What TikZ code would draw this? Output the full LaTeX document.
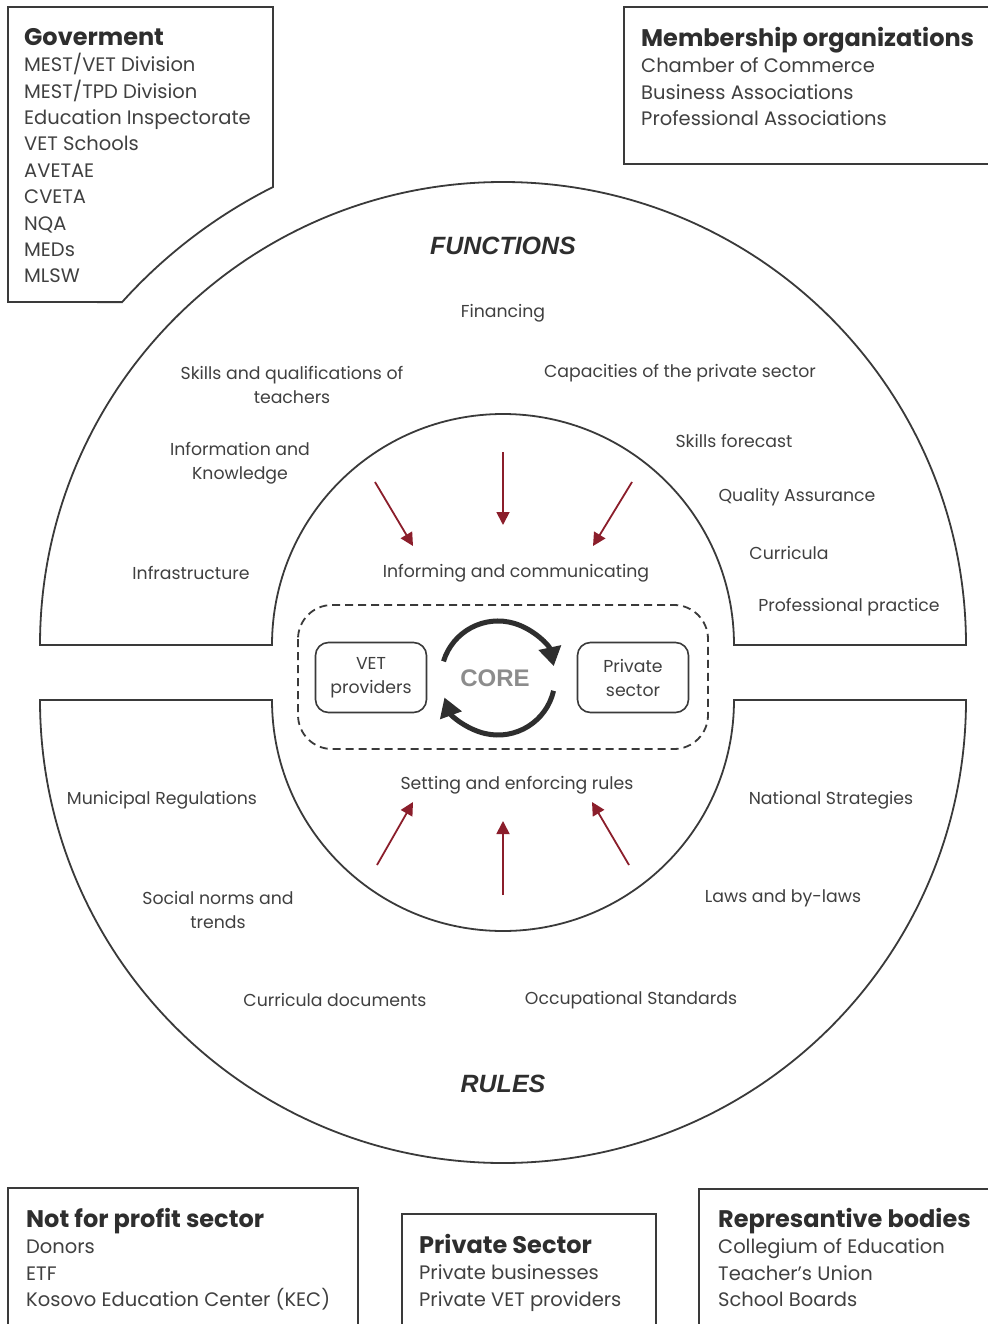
\documentclass[tikz,border=0pt]{standalone}
\usepackage{fontspec}
\setmainfont{Poppins}
\newfontfamily\arialf{Liberation Sans}
\usetikzlibrary{arrows.meta}
\definecolor{ln}{HTML}{3A3A3A}
\definecolor{tx}{HTML}{404040}
\definecolor{hd}{HTML}{2E2E2E}
\definecolor{rd}{HTML}{8B1E2B}
\definecolor{coregray}{HTML}{8C8C8C}
\newcommand\hdr[1]{{\bfseries\fontsize{24}{26.4}\selectfont\color{hd}#1}}
\begin{document}
\begin{tikzpicture}[x=1pt,y=-1pt,
  shapeline/.style={draw=ln, line width=1.8pt, fill=white},
  lbl/.style={text=tx, font=\fontsize{17.3}{24}\selectfont, align=center, inner sep=0pt},
  boxtext/.style={text=tx, font=\fontsize{19.5}{26.4}\selectfont, align=left, anchor=north west, inner sep=0pt},
  bigital/.style={text=hd, font=\arialf\bfseries\itshape\fontsize{25}{28}\selectfont, inner sep=0pt},
  redarrow/.style={draw=rd, line width=1.8pt, -{Triangle[length=13pt,width=13pt]}},
  corearrow/.style={draw=hd, line width=5pt, -{Triangle[length=19pt,width=22pt]}},
  roundbox/.style={draw=ln, line width=1.6pt, rounded corners=13pt, minimum width=111pt, minimum height=70pt, text=tx, font=\fontsize{17.3}{24}\selectfont, align=center, inner sep=0pt}
]
\useasboundingbox (0,0) rectangle (987,1324);
\fill[white] (0,0) rectangle (987,1324);

% ---- outer boxes ----
\draw[shapeline] (8,7) -- (273,7) -- (273,187)
  arc[start angle=243.33, end angle=221.99, radius=512.6] -- (8,302) -- cycle;
\draw[shapeline] (624,7) rectangle (1000,164);
\draw[shapeline] (8,1188) rectangle (358,1340);
\draw[shapeline] (402,1214) rectangle (656,1340);
\draw[shapeline] (699,1189) rectangle (1000,1340);

\node[boxtext] (gov) at (24,28) {\hdr{Goverment}\\MEST/VET Division\\MEST/TPD Division\\Education Inspectorate\\VET Schools\\AVETAE\\CVETA\\NQA\\MEDs\\MLSW};
\node[boxtext] (mem) at (641,27) {\hdr{Membership organizations}\\Chamber of Commerce\\Business Associations\\Professional Associations};
\node[boxtext] (npf) at (26,1208) {\hdr{Not for profit sector}\\Donors\\ETF\\Kosovo Education Center (KEC)};
\node[boxtext] (prs) at (419,1234) {\hdr{Private Sector}\\Private businesses\\Private VET providers};
\node[boxtext] (rep) at (718,1208) {\hdr{Represantive bodies}\\Collegium of Education\\Teacher’s Union\\School Boards};

% ---- half rings ----
\draw[shapeline] (40,645) -- (272,645) arc[start angle=180, end angle=360, radius=231]
  -- (966,645) arc[start angle=0, end angle=-180, radius=463] -- cycle;
\draw[shapeline] (40,700) -- (272,700) arc[start angle=180, end angle=0, radius=231]
  -- (966,700) arc[start angle=0, end angle=180, radius=463] -- cycle;

% ---- functions labels ----
\node[bigital] (fun) at (503,246) {FUNCTIONS};
\node[lbl] (fin) at (503,313) {Financing};
\node[lbl] (sqt) at (292,385) {Skills and qualifications of\\teachers};
\node[lbl] (cap) at (680,373) {Capacities of the private sector};
\node[lbl] (ink) at (240,463) {Information and\\Knowledge};
\node[lbl] (skf) at (734,441) {Skills forecast};
\node[lbl] (qas) at (797,497) {Quality Assurance};
\node[lbl] (cur) at (789,553) {Curricula};
\node[lbl] (inf) at (191,573) {Infrastructure};
\node[lbl] (pp) at (849,607) {Professional practice};
\node[lbl] (ic) at (516,573) {Informing and communicating};

% ---- rules labels ----
\node[lbl] (ser) at (517,785) {Setting and enforcing rules};
\node[lbl] (mr) at (162,800) {Municipal Regulations};
\node[lbl] (ns) at (831,800) {National Strategies};
\node[lbl] (snt) at (218,910) {Social norms and\\trends};
\node[lbl] (lbl1) at (783,898) {Laws and by-laws};
\node[lbl] (cd) at (335,1000) {Curricula documents};
\node[lbl] (os) at (631,1000) {Occupational Standards};
\node[bigital] (rul) at (503,1084) {RULES};

% ---- red arrows ----
\coordinate (t1s) at (375,482); \coordinate (t1e) at (413,546);
\coordinate (t2s) at (503,452); \coordinate (t2e) at (503,525);
\coordinate (t3s) at (632,482); \coordinate (t3e) at (593,546);
\coordinate (b1s) at (377,865); \coordinate (b1e) at (413,802);
\coordinate (b2s) at (503,895); \coordinate (b2e) at (503,821);
\coordinate (b3s) at (629,865); \coordinate (b3e) at (592,802);
\foreach \a in {t1,t2,t3,b1,b2,b3} \draw[redarrow] (\a s) -- (\a e);

% ---- core ----
\draw[draw=ln, line width=1.8pt, dash pattern=on 8pt off 5pt, rounded corners=34pt] (298,605) rectangle (708,749);
\node[roundbox] (vet) at (371,677.5) {VET\\providers};
\node[roundbox] (pri) at (633,677.5) {Private\\sector};
\node[text=coregray, font=\arialf\bfseries\fontsize{24}{28}\selectfont, inner sep=0pt] (core) at (495,678) {CORE};
\coordinate (cc) at (498,678);
\draw[corearrow] ([shift={(-163:57)}]cc) arc[start angle=-163, end angle=-12, radius=57];
\draw[corearrow] ([shift={(13:57)}]cc) arc[start angle=13, end angle=160, radius=57];
\end{tikzpicture}
\end{document}
